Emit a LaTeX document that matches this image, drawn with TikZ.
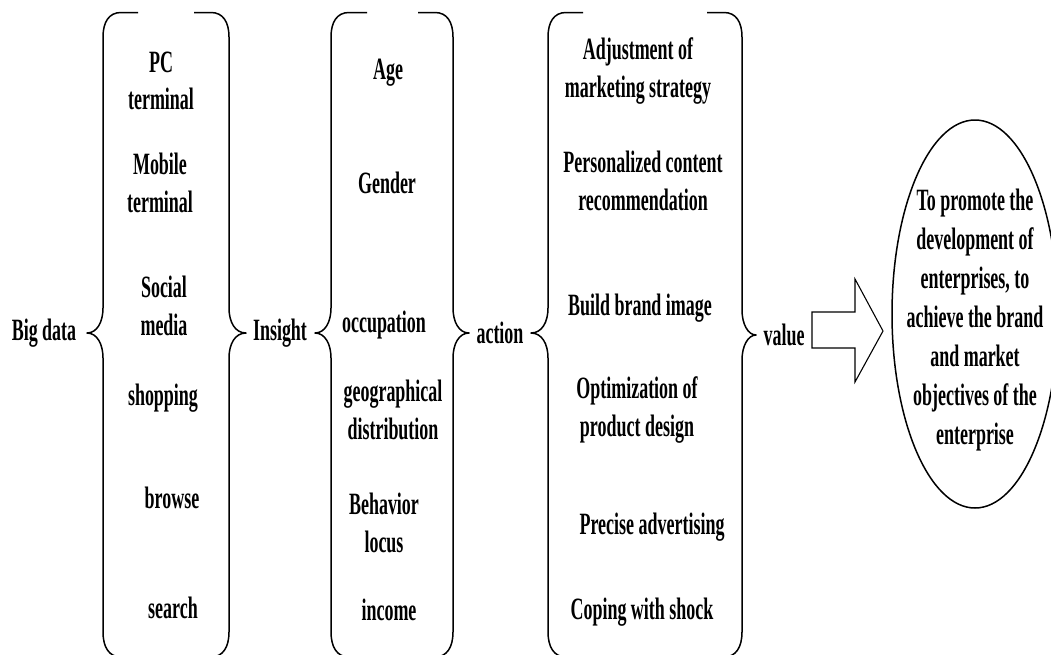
\documentclass[tikz,border=0pt]{standalone}
\usepackage{fontspec}
\setmainfont{Liberation Serif}[FakeStretch=0.58]
\usepackage{tikz}
\usetikzlibrary{shapes.geometric}

\begin{document}
\begin{tikzpicture}[x=1pt,y=-1pt,font=\bfseries\fontsize{31}{37.5}\selectfont,
  bracket/.style={line width=1.5pt,line join=round},
  item/.style={align=center,inner sep=0pt}]
  \clip (0,0) rectangle (1051,654);
  % braces of the three groups
  \draw[bracket] (138,12.5) -- (121,12.5) .. controls (109,12.5) and (103,22) .. (103,37) -- (103,308) .. controls (103,322) and (97,333) .. (87,333) .. controls (97,333) and (103,344) .. (103,358) -- (103,632) .. controls (103,647) and (109,657) .. (121,657) -- (138,657);
  \draw[bracket] (194,12.5) -- (211,12.5) .. controls (223,12.5) and (229,22) .. (229,37) -- (229,308) .. controls (229,322) and (235,333) .. (246,333) .. controls (235,333) and (229,344) .. (229,358) -- (229,632) .. controls (229,647) and (223,657) .. (211,657) -- (194,657);
  \draw[bracket] (367,12.5) -- (349,12.5) .. controls (337,12.5) and (331,22) .. (331,37) -- (331,308) .. controls (331,322) and (325,333) .. (315,333) .. controls (325,333) and (331,344) .. (331,358) -- (331,632) .. controls (331,647) and (337,657) .. (349,657) -- (367,657);
  \draw[bracket] (418,12.5) -- (435,12.5) .. controls (447,12.5) and (453,22) .. (453,37) -- (453,308) .. controls (453,322) and (459,333) .. (469,333) .. controls (459,333) and (453,344) .. (453,358) -- (453,632) .. controls (453,647) and (447,657) .. (435,657) -- (418,657);
  \draw[bracket] (583,12.5) -- (566,12.5) .. controls (554,12.5) and (548,22) .. (548,37) -- (548,308) .. controls (548,322) and (542,333) .. (531,333) .. controls (542,333) and (548,344) .. (548,358) -- (548,632) .. controls (548,647) and (554,657) .. (566,657) -- (583,657);
  \draw[bracket] (707,12.5) -- (724,12.5) .. controls (736,12.5) and (742,22) .. (742,37) -- (742,310) .. controls (742,324) and (748,335) .. (756,335) .. controls (748,335) and (742,346) .. (742,360) -- (742,632) .. controls (742,647) and (736,657) .. (724,657) -- (707,657);
  % labels
  \node[item] (bigdata) at (44,333) {Big data};
  \node[item] (insight) at (280,333) {Insight};
  \node[item] (action) at (500,333) {action};
  \node[item] (value) at (784,335) {value};
  % sources
  \node[item] (pc) at (161,81) {PC\\terminal};
  \node[item] (mobile) at (160,183) {Mobile\\terminal};
  \node[item] (social) at (164,306) {Social\\media};
  \node[item] (shopping) at (163,398) {shopping};
  \node[item] (browse) at (172,498) {browse};
  \node[item] (search) at (173,608) {search};
  % insight
  \node[item] (age) at (388,73) {Age};
  \node[item] (gender) at (387,183) {Gender};
  \node[item] (occupation) at (384,325) {occupation};
  \node[item] (geo) at (393,410) {geographical\\distribution};
  \node[item] (behavior) at (384,523) {Behavior\\locus};
  \node[item] (income) at (389,610) {income};
  % action
  \node[item] (adjust) at (638,71) {Adjustment of\\marketing strategy};
  \node[item] (personal) at (643,181) {Personalized content\\recommendation};
  \node[item] (brand) at (640,308) {Build brand image};
  \node[item] (optim) at (637,410) {Optimization of\\product design};
  \node[item] (precise) at (652,527) {Precise advertising};
  \node[item] (coping) at (642,612) {Coping with shock};
  % value
  \draw[line width=1.1pt,line join=miter] (812,312) -- (855,312) -- (855,279) -- (883,331) -- (855,382) -- (855,348) -- (812,348) -- cycle;
  \node[draw,ellipse,line width=1.5pt,minimum width=166pt,minimum height=388pt,inner sep=0pt] (goal) at (975,314) {};
  \node[item,font=\bfseries\fontsize{31}{39}\selectfont] (goaltext) at (975,320) {To promote the\\development of\\enterprises, to\\achieve the brand\\and market\\objectives of the\\enterprise};
\end{tikzpicture}
\end{document}
